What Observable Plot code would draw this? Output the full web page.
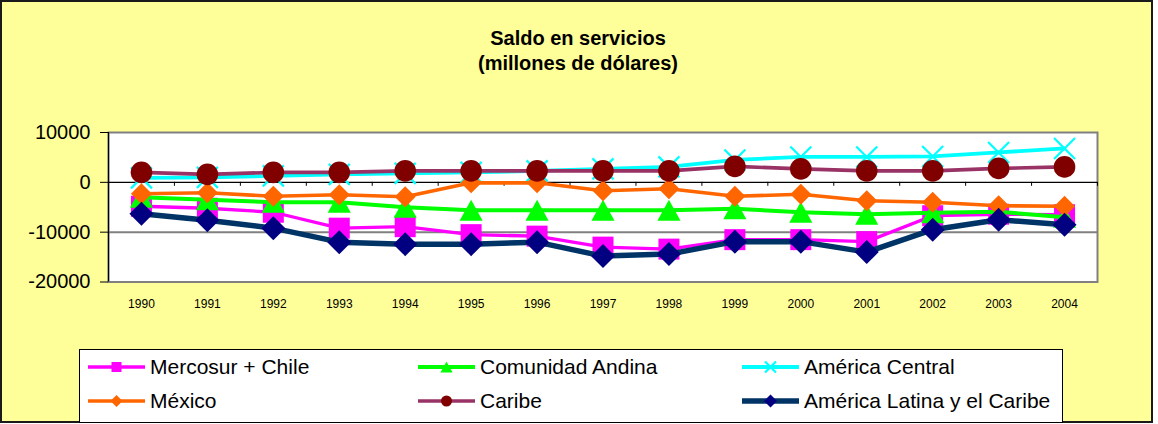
<!DOCTYPE html>
<html><head><meta charset="utf-8">
<script src="https://cdn.jsdelivr.net/npm/d3@7"></script>
<script src="https://cdn.jsdelivr.net/npm/@observablehq/plot@0.6"></script>
<style>
body{margin:0;background:#fff;font-family:"Liberation Sans",Arial,sans-serif;}
#bg{position:absolute;left:0;top:0;width:1153px;height:423px;box-sizing:border-box;border:2px solid #1a1a1a;background:#FFFF99;}
#plot{position:absolute;left:0;top:0;}
#title{position:absolute;left:0;width:1156px;top:26px;text-align:center;font-weight:bold;font-size:20px;line-height:25px;color:#000;}
#legend{position:absolute;left:79px;top:349px;width:984px;height:74px;box-sizing:border-box;border:1px solid #000;background:#fff;}
.item{position:absolute;display:flex;align-items:center;font-size:21px;height:30px;color:#000;white-space:nowrap;}
.item svg{margin-right:5px;}
</style></head>
<body>
<div id="bg"></div>
<div id="plot"></div>
<div id="title">Saldo en servicios<br>(millones de dólares)</div>
<div id="legend"></div>
<script>
const years = [1990,1991,1992,1993,1994,1995,1996,1997,1998,1999,2000,2001,2002,2003,2004];
const yTicks = [-20000,-10000,0,10000];
const mercosur = [-4800,-5200,-6000,-9200,-8900,-10500,-10800,-13000,-13400,-11500,-11500,-11900,-6700,-6400,-6500];
const andina   = [-3000,-3500,-4000,-4000,-5000,-5600,-5600,-5600,-5600,-5300,-6000,-6400,-6100,-5900,-7000];
const central  = [900,1000,1300,1600,1800,2000,2300,2700,3100,4500,5100,5100,5200,6000,6800];
const mexico   = [-2300,-2100,-2800,-2500,-2900,-100,-100,-1700,-1300,-2800,-2400,-3700,-4000,-4700,-4800];
const caribe   = [2000,1600,2000,2000,2300,2300,2300,2300,2300,3200,2700,2300,2300,2800,3100];
const alc      = [-6300,-7600,-9200,-12000,-12400,-12400,-12000,-14800,-14400,-11900,-11900,-14000,-9500,-7500,-8500];
const names = ["Mercosur + Chile","Comunidad Andina","América Central","México","Caribe","América Latina y el Caribe"];
const seriesValues = [mercosur, andina, central, mexico, caribe, alc];

const sq = {draw(c,s){const r=Math.sqrt(s/Math.PI);c.rect(-r,-r,2*r,2*r);}};
const dia = {draw(c,s){const r=Math.sqrt(s/Math.PI);c.moveTo(0,-r);c.lineTo(r,0);c.lineTo(0,r);c.lineTo(-r,0);c.closePath();}};
const tri = {draw(c,s){const r=Math.sqrt(s/Math.PI);c.moveTo(0,-r);c.lineTo(1.1*r,r);c.lineTo(-1.1*r,r);c.closePath();}};
const tms = {draw(c,s){const r=Math.sqrt(s/Math.PI);c.moveTo(-r,-r);c.lineTo(r,r);c.moveTo(r,-r);c.lineTo(-r,r);}};
const circ = {draw(c,s){const r=Math.sqrt(s/Math.PI);c.moveTo(r,0);c.arc(0,0,r,0,2*Math.PI);}};

const styles = [
  {line:"#FF00FF", lw:3.3, sym:sq,  r:10.5, fill:"#FF00FF", stroke:"none", lr:5},
  {line:"#00FF00", lw:4,   sym:tri, r:10.5, fill:"#00FF00", stroke:"none", lr:5.5},
  {line:"#00FFFF", lw:3.8, sym:tms, r:10.5, fill:"none", stroke:"#00FFFF", sw:2.2, lr:5.5},
  {line:"#FF6600", lw:3.6, sym:dia, r:10.5, fill:"#FF6600", stroke:"none", lr:6},
  {line:"#993366", lw:3.6, sym:circ,r:10.8, fill:"#800000", stroke:"none", lr:5.5},
  {line:"#003366", lw:5.5, sym:dia, r:12,   fill:"#000080", stroke:"none", lr:6.5}
];

const rows = [];
names.forEach((n,i)=>years.forEach((y,j)=>rows.push({series:n, year:y, value:seriesValues[i][j]})));
const boundaries = [years[0]-0.5, ...years.map(y=>y+0.5)];

const seriesMarks = [];
names.forEach((n,i)=>{
  const st = styles[i];
  const d = rows.filter(r=>r.series===n);
  seriesMarks.push(Plot.line(d,{x:"year",y:"value",stroke:st.line,strokeWidth:st.lw}));
  seriesMarks.push(Plot.dot(d,{x:"year",y:"value",symbol:st.sym,r:st.r,fill:st.fill,stroke:st.stroke,strokeWidth:st.sw||0}));
});

const chart = Plot.plot({
  width:1158, height:424,
  marginLeft:108, marginRight:61, marginTop:132, marginBottom:142.5,
  style:{background:"transparent",fontFamily:"'Liberation Sans', Arial, sans-serif",color:"#000",overflow:"visible"},
  x:{domain:[1989.5,2004.5], label:null},
  y:{domain:[-20000,10000], label:null},
  marks:[
    Plot.frame({fill:"white",stroke:"none"}),
    Plot.ruleY([-10000],{stroke:"#808080",strokeWidth:2}),
    Plot.frame({stroke:"#808080",strokeWidth:2}),
    Plot.ruleX([boundaries[0]],{stroke:"#000",strokeWidth:1.2}),
    Plot.ruleY([0],{stroke:"#000",strokeWidth:1.2}),
    Plot.ruleX(boundaries,{x:d=>d,y1:0,y2:-800,stroke:"#000",strokeWidth:1}),
    Plot.axisY({ticks:yTicks,tickFormat:d=>String(d),tickSize:8,tickPadding:10,fontSize:20,stroke:"#000"}),
    Plot.axisX({ticks:years,tickFormat:d=>String(d),tickSize:0,tickPadding:17,fontSize:12}),
    ...seriesMarks
  ]
});
document.getElementById("plot").appendChild(chart);

// legend
const leg = document.getElementById("legend");
const colX = [8,338,662], rowY = [2,36];
names.forEach((n,i)=>{
  const st = styles[i];
  const item = document.createElement("div");
  item.className="item";
  item.style.left = colX[i%3]+"px";
  item.style.top = rowY[Math.floor(i/3)]+"px";
  const svg = d3.create("svg").attr("width",57).attr("height",24);
  svg.append("line").attr("x1",0).attr("x2",57).attr("y1",12).attr("y2",12).attr("stroke",st.line).attr("stroke-width",st.lw);
  const p = d3.path(); st.sym.draw(p, Math.PI*st.lr*st.lr);
  svg.append("path").attr("transform","translate(28.5,12)").attr("d",p.toString()).attr("fill",st.fill).attr("stroke",st.stroke).attr("stroke-width",st.sw||0);
  item.appendChild(svg.node());
  const t = document.createElement("span"); t.textContent = n;
  item.appendChild(t);
  leg.appendChild(item);
});
</script>
</body></html>
